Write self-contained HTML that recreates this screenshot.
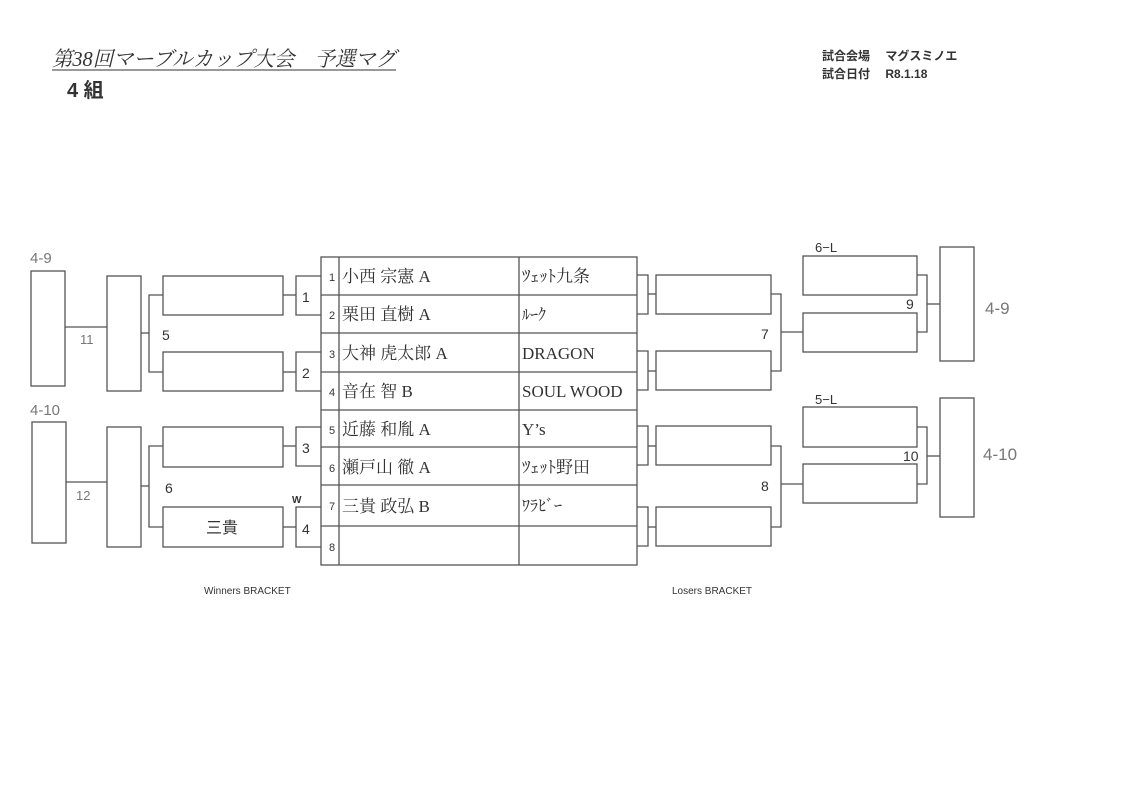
<!DOCTYPE html>
<html><head><meta charset="utf-8"><style>
html,body{margin:0;padding:0;background:#fff;}
svg{display:block;}
text{font-family:"Liberation Sans","Noto Sans CJK JP",sans-serif;fill:#333;}
.s{font-family:"Liberation Serif","Noto Serif CJK SC","Noto Sans CJK JP",serif;}
.h{font-family:"Liberation Sans","Noto Sans CJK JP",sans-serif;fill:#777;}
</style></head><body>
<svg width="1123" height="794" viewBox="0 0 1123 794" xmlns="http://www.w3.org/2000/svg">
<g fill="none" stroke="#555" stroke-width="1.3">
<rect x="31" y="271" width="34" height="115"/>
<rect x="32" y="422" width="34" height="121"/>
<line x1="65" y1="327" x2="107" y2="327"/>
<line x1="66" y1="482" x2="107" y2="482"/>
<rect x="107" y="276" width="34" height="115"/>
<rect x="107" y="427" width="34" height="120"/>
<polyline points="141,333 149,333"/>
<polyline points="163,295 149,295 149,372 163,372"/>
<polyline points="141,486 149,486"/>
<polyline points="163,446 149,446 149,527 163,527"/>
<rect x="163" y="276" width="120" height="39"/>
<rect x="163" y="352" width="120" height="39"/>
<rect x="163" y="427" width="120" height="40"/>
<rect x="163" y="507" width="120" height="40"/>
<line x1="283" y1="295" x2="296" y2="295"/>
<line x1="283" y1="372" x2="296" y2="372"/>
<line x1="283" y1="446" x2="296" y2="446"/>
<line x1="283" y1="527" x2="296" y2="527"/>
<polyline points="321,276 296,276 296,315 321,315"/>
<polyline points="321,352 296,352 296,391 321,391"/>
<polyline points="321,427 296,427 296,466 321,466"/>
<polyline points="321,507 296,507 296,547 321,547"/>
<rect x="321" y="257" width="316" height="308"/>
<line x1="339" y1="257" x2="339" y2="565"/>
<line x1="519" y1="257" x2="519" y2="565"/>
<line x1="321" y1="295" x2="637" y2="295"/>
<line x1="321" y1="333" x2="637" y2="333"/>
<line x1="321" y1="372" x2="637" y2="372"/>
<line x1="321" y1="410" x2="637" y2="410"/>
<line x1="321" y1="447" x2="637" y2="447"/>
<line x1="321" y1="485" x2="637" y2="485"/>
<line x1="321" y1="526" x2="637" y2="526"/>
<polyline points="637,275 648,275 648,314 637,314"/>
<polyline points="637,351 648,351 648,390 637,390"/>
<polyline points="637,426 648,426 648,465 637,465"/>
<polyline points="637,507 648,507 648,546 637,546"/>
<line x1="648" y1="294" x2="656" y2="294"/>
<line x1="648" y1="371" x2="656" y2="371"/>
<line x1="648" y1="446" x2="656" y2="446"/>
<line x1="648" y1="527" x2="656" y2="527"/>
<rect x="656" y="275" width="115" height="39"/>
<rect x="656" y="351" width="115" height="39"/>
<rect x="656" y="426" width="115" height="39"/>
<rect x="656" y="507" width="115" height="39"/>
<polyline points="771,294 781,294 781,371 771,371"/>
<polyline points="771,446 781,446 781,527 771,527"/>
<line x1="781" y1="332" x2="803" y2="332"/>
<line x1="781" y1="484" x2="803" y2="484"/>
<rect x="803" y="256" width="114" height="39"/>
<rect x="803" y="313" width="114" height="39"/>
<rect x="803" y="407" width="114" height="40"/>
<rect x="803" y="464" width="114" height="39"/>
<polyline points="917,275 927,275 927,332 917,332"/>
<polyline points="917,427 927,427 927,484 917,484"/>
<line x1="927" y1="304" x2="940" y2="304"/>
<line x1="927" y1="456" x2="940" y2="456"/>
<rect x="940" y="247" width="34" height="114"/>
<rect x="940" y="398" width="34" height="119"/>
</g>
<text x="52" y="66" class="s" font-size="21" font-style="italic" fill="#333" textLength="344" lengthAdjust="spacingAndGlyphs">第38回マーブルカップ大会　予選マグ</text>
<line x1="52" y1="70" x2="396" y2="70" stroke="#333" stroke-width="1"/>
<text x="67" y="97" font-size="20" font-weight="bold">4 組</text>
<text x="822" y="60" font-size="12" font-weight="600">試合会場　 マグスミノエ</text>
<text x="822" y="78" font-size="12" font-weight="600">試合日付　 R8.1.18</text>
<text x="30" y="263" class="h" font-size="15">4-9</text>
<text x="30" y="415" class="h" font-size="15">4-10</text>
<text x="80" y="344" class="h" font-size="13">11</text>
<text x="76" y="500" class="h" font-size="13">12</text>
<text x="985" y="314" class="h" font-size="17">4-9</text>
<text x="983" y="460" class="h" font-size="17">4-10</text>
<text x="162" y="340" font-size="14">5</text>
<text x="165" y="493" font-size="14">6</text>
<text x="302" y="302" font-size="14">1</text>
<text x="302" y="378" font-size="14">2</text>
<text x="302" y="453" font-size="14">3</text>
<text x="302" y="534" font-size="14">4</text>
<text x="292" y="503" font-size="10" font-weight="bold">W</text>
<text x="206" y="533" font-size="16">三貴</text>
<text x="761" y="339" font-size="14">7</text>
<text x="761" y="491" font-size="14">8</text>
<text x="906" y="309" font-size="14">9</text>
<text x="903" y="461" font-size="14">10</text>
<text x="815" y="252" font-size="13">6−L</text>
<text x="815" y="404" font-size="13">5−L</text>
<text x="204" y="594" font-size="10">Winners BRACKET</text>
<text x="672" y="594" font-size="10">Losers BRACKET</text>
<g font-size="11">
<text x="329" y="281">1</text><text x="329" y="319">2</text><text x="329" y="358">3</text><text x="329" y="396">4</text>
<text x="329" y="434">5</text><text x="329" y="472">6</text><text x="329" y="510">7</text><text x="329" y="551">8</text>
</g>
<g font-size="17">
<text x="342" y="282" class="s">小西 宗憲 A</text>
<text x="342" y="320" class="s">栗田 直樹 A</text>
<text x="342" y="359" class="s">大神 虎太郎 A</text>
<text x="342" y="397" class="s">音在 智 B</text>
<text x="342" y="435" class="s">近藤 和胤 A</text>
<text x="342" y="473" class="s">瀬戸山 徹 A</text>
<text x="342" y="512" class="s">三貴 政弘 B</text>
<text x="522" y="282" class="s" font-size="17">ﾂｪｯﾄ九条</text>
<text x="522" y="320" class="s" font-size="16">ﾙｰｸ</text>
<text x="522" y="359" class="s">DRAGON</text>
<text x="522" y="397" class="s">SOUL WOOD</text>
<text x="522" y="435" class="s">Y’s</text>
<text x="522" y="473" class="s" font-size="17">ﾂｪｯﾄ野田</text>
<text x="522" y="511" class="s" font-size="16">ﾜﾗﾋﾞｰ</text>
</g>
</svg>
</body></html>
